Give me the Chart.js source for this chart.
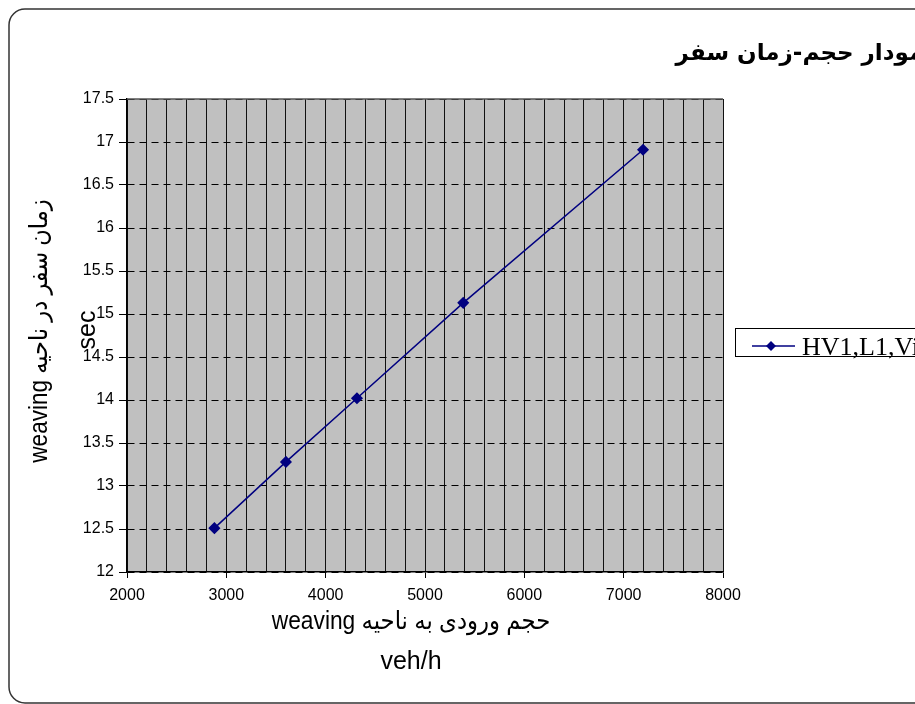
<!DOCTYPE html>
<html><head><meta charset="utf-8">
<script src="https://cdn.jsdelivr.net/npm/chart.js@4"></script>
<style>html,body{margin:0;padding:0;background:#fff;overflow:hidden}canvas{display:block}</style>
</head><body>
<canvas id="c" width="915" height="704"></canvas>
<script>
const seriesLabel = 'HV1,L1,Vi1';
const volumes = [2880, 3600, 4315, 5385, 7195];
const travelTimes = [12.51, 13.28, 14.02, 15.13, 16.91];
const xRange = [2000, 8000];
const xLabelStep = 1000;
const xGridStep = 200;
const yRange = [12, 17.5];
const yStep = 0.5;
const chartTitle = 'نمودار حجم-زمان سفر';
const xTitleLines = ['weaving حجم ورودی به ناحیه', 'veh/h'];
const yTitleLines = ['weaving زمان سفر در ناحیه', 'sec'];

const SANS = '"Liberation Sans", "DejaVu Sans", sans-serif';

function squeezedText(ctx, text, x, y, sx, rot) {
  ctx.save();
  ctx.translate(x, y);
  if (rot) ctx.rotate(rot);
  ctx.scale(sx, 1);
  ctx.fillText(text, 0, 0);
  ctx.restore();
}

const decor = {
  id: 'decor',
  beforeDraw(chart) {
    const {ctx, chartArea: a} = chart;
    ctx.save();
    ctx.fillStyle = '#c0c0c0';
    ctx.fillRect(a.left, a.top, a.right - a.left, a.bottom - a.top);
    ctx.restore();
  },
  afterDraw(chart) {
    const {ctx, chartArea: a} = chart;
    ctx.save();
    ctx.direction = 'ltr';
    // plot top frame
    ctx.strokeStyle = '#555';
    ctx.lineWidth = 1.5;
    ctx.beginPath();
    ctx.moveTo(a.left, a.top);
    ctx.lineTo(a.right, a.top);
    ctx.stroke();
    // outer rounded frame
    ctx.strokeStyle = '#333';
    ctx.lineWidth = 1.5;
    ctx.beginPath();
    ctx.roundRect(9, 9, 1000, 694, 16);
    ctx.stroke();
    // chart title
    ctx.fillStyle = '#000';
    ctx.font = 'bold 23px "DejaVu Sans", sans-serif';
    ctx.textAlign = 'right';
    ctx.textBaseline = 'middle';
    ctx.fillText(chartTitle, 933, 54);
    // x title
    ctx.font = '25px ' + SANS;
    ctx.textAlign = 'center';
    squeezedText(ctx, xTitleLines[0], 411, 622, 0.91, 0);
    squeezedText(ctx, xTitleLines[1], 411, 662, 1, 0);
    // y title
    squeezedText(ctx, yTitleLines[0], 40, 331, 0.9, -Math.PI / 2);
    squeezedText(ctx, yTitleLines[1], 88, 330, 1, -Math.PI / 2);
    // legend
    const ds = chart.data.datasets[0];
    ctx.fillStyle = '#fff';
    ctx.fillRect(735, 328, 300, 28);
    ctx.strokeStyle = '#000';
    ctx.lineWidth = 1;
    ctx.strokeRect(735.5, 328.5, 300, 28);
    ctx.strokeStyle = ds.borderColor;
    ctx.lineWidth = 1.5;
    ctx.beginPath();
    ctx.moveTo(752, 346);
    ctx.lineTo(795, 346);
    ctx.stroke();
    ctx.fillStyle = ds.backgroundColor;
    ctx.beginPath();
    ctx.moveTo(771, 341); ctx.lineTo(776, 346); ctx.lineTo(771, 351); ctx.lineTo(766, 346);
    ctx.closePath();
    ctx.fill();
    ctx.fillStyle = '#000';
    ctx.textAlign = 'left';
    ctx.textBaseline = 'alphabetic';
    ctx.font = '26px "Liberation Serif", serif';
    ctx.fillText(ds.label, 802, 355);
    ctx.restore();
  }
};

new Chart(document.getElementById('c'), {
  type: 'scatter',
  data: {
    datasets: [{
      label: seriesLabel,
      data: volumes.map((v, i) => ({x: v, y: travelTimes[i]})),
      showLine: true,
      borderColor: '#000080',
      backgroundColor: '#000080',
      borderWidth: 1.5,
      pointStyle: 'rectRot',
      pointRadius: 5,
      pointHoverRadius: 5
    }]
  },
  options: {
    responsive: false,
    animation: false,
    devicePixelRatio: 1,
    layout: {padding: {left: 0, top: 99, right: 192, bottom: 0}},
    plugins: {legend: {display: false}, tooltip: {enabled: false}, title: {display: false}},
    scales: {
      x: {
        type: 'linear', position: 'bottom', min: xRange[0], max: xRange[1],
        afterFit(s) { s.height = 132; },
        ticks: {
          stepSize: xGridStep, maxTicksLimit: 200, autoSkip: false, maxRotation: 0, minRotation: 0,
          padding: 8, color: '#000', font: {family: SANS, size: 16},
          callback: v => (v % xLabelStep === 0 ? String(v) : '')
        },
        grid: {
          color: '#111', lineWidth: 1, tickLength: 6,
          tickColor: c => (c.tick && c.tick.value % xLabelStep === 0 ? '#000' : 'rgba(0,0,0,0)')
        },
        border: {color: '#000', width: 1.5}
      },
      y: {
        min: yRange[0], max: yRange[1],
        afterFit(s) { s.width = 127; },
        ticks: {
          stepSize: yStep, maxTicksLimit: 200, autoSkip: false, padding: 5, color: '#000',
          font: {family: SANS, size: 16}, callback: v => String(v)
        },
        grid: {color: '#000', lineWidth: 1, tickLength: 8, tickColor: '#000'},
        border: {color: '#000', width: 1.5, dash: [7, 5]}
      }
    }
  },
  plugins: [decor]
});
</script>
</body></html>
